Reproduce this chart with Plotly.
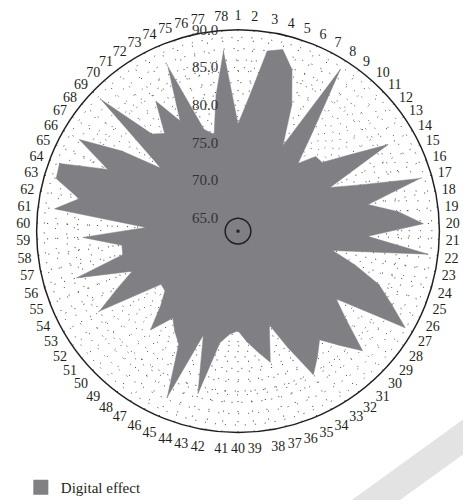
import plotly.graph_objects as go

categories = [str(i) for i in range(1, 79)]
values = [
    77.5, 81.0, 87.5, 88.1, 85.9, 81.5, 76.1, 88.7, 79.8, 75.3,
    77.6, 77.7, 81.0, 86.3, 76.8, 80.6, 88.4, 80.9, 84.7, 87.9,
    80.5, 88.7, 76.1, 79.5, 83.3, 85.8, 88.9, 79.1, 81.8, 86.2,
    83.5, 81.3, 83.0, 84.8, 80.0, 76.4, 81.2, 79.5, 78.0, 76.5,
    77.0, 78.3, 85.5, 77.8, 87.2, 80.2, 79.0, 77.7, 80.8, 77.5,
    75.8, 75.7, 84.5, 81.0, 78.3, 85.6, 78.9, 78.8, 83.9, 75.5,
    87.8, 84.8, 88.4, 88.6, 82.4, 87.6, 82.0, 76.5, 88.5, 80.5,
    79.5, 83.7, 79.8, 87.0, 77.5, 76.5, 81.5, 87.2,
]
series_name = "Digital effect"

r_min, r_max = 63.3, 90.0
major_ticks = [65, 70, 75, 80, 85, 90]
major_labels = ["65.0", "70.0", "75.0", "80.0", "85.0", "90.0"]
minor_ticks = [66.5, 68.0, 69.5, 71.0, 72.5, 74.0, 75.5, 77.0, 78.5,
               81.5, 83.0, 84.5, 86.0, 87.5, 89.0]
inner_ring = 65

tickvals = major_ticks + minor_ticks
ticktext = major_labels + ["" for _ in minor_ticks]

FONT = "Liberation Serif"
TXT = "#231f20"
FILL = "#7f7f84"

fig = go.Figure()
fig.add_trace(go.Scatterpolar(
    r=values + [values[0]], theta=categories + [categories[0]],
    mode="lines", fill="toself", fillcolor=FILL,
    line=dict(color=FILL, width=0.5),
    name=series_name, showlegend=False,
))
# legend entry (square swatch)
fig.add_trace(go.Scatterpolar(
    r=[None], theta=[None], mode="markers",
    marker=dict(symbol="square", size=15, color=FILL),
    name=series_name, showlegend=True,
))
fig.add_trace(go.Scatterpolar(
    r=[inner_ring] * (len(categories) + 1), theta=categories + [categories[0]],
    mode="lines", line=dict(color="#231f20", width=1.5, shape="spline"),
    showlegend=False, hoverinfo="skip",
))
fig.add_trace(go.Scatterpolar(
    r=[r_min], theta=[categories[0]], mode="markers",
    marker=dict(symbol="square", size=3, color="#231f20"),
    showlegend=False, hoverinfo="skip",
))

fig.update_layout(
    width=463, height=504,
    margin=dict(l=0, r=0, t=0, b=0),
    paper_bgcolor="white",
    font=dict(family=FONT, size=14, color=TXT),
    polar=dict(
        domain=dict(x=[35/463, 441/463], y=[68/504, 474/504]),
        bgcolor="white",
        radialaxis=dict(
            range=[r_min, r_max], tickvals=tickvals, ticktext=ticktext,
            angle=90, tickangle=90, side="counterclockwise",
            showline=False, ticks="outside", ticklen=14,
            tickcolor="rgba(0,0,0,0)",
            gridcolor="#333333", gridwidth=1, griddash="1px,9px",
            tickfont=dict(family=FONT, size=15, color="#333333"),
            layer="above traces",
        ),
        angularaxis=dict(
            direction="clockwise", rotation=90,
            type="category", categoryarray=categories,
            showline=True, linecolor="#231f20", linewidth=1.5,
            gridcolor="#333333", gridwidth=1, griddash="1px,9px",
            ticks="outside", ticklen=3, tickcolor="rgba(0,0,0,0)",
            tickfont=dict(family=FONT, size=14, color=TXT),
            layer="above traces",
        ),
    ),
    legend=dict(x=0.045, y=0.025, xanchor="left", yanchor="middle",
                font=dict(family=FONT, size=15, color=TXT),
                bgcolor="rgba(0,0,0,0)"),
    shapes=[dict(type="path", xref="paper", yref="paper",
                 path="M 0.760 0 L 1 0.161 L 1 0.091 L 0.864 0 Z",
                 fillcolor="#e3e3e3", line=dict(width=0), layer="below")],
)

fig.write_html("out.html")
